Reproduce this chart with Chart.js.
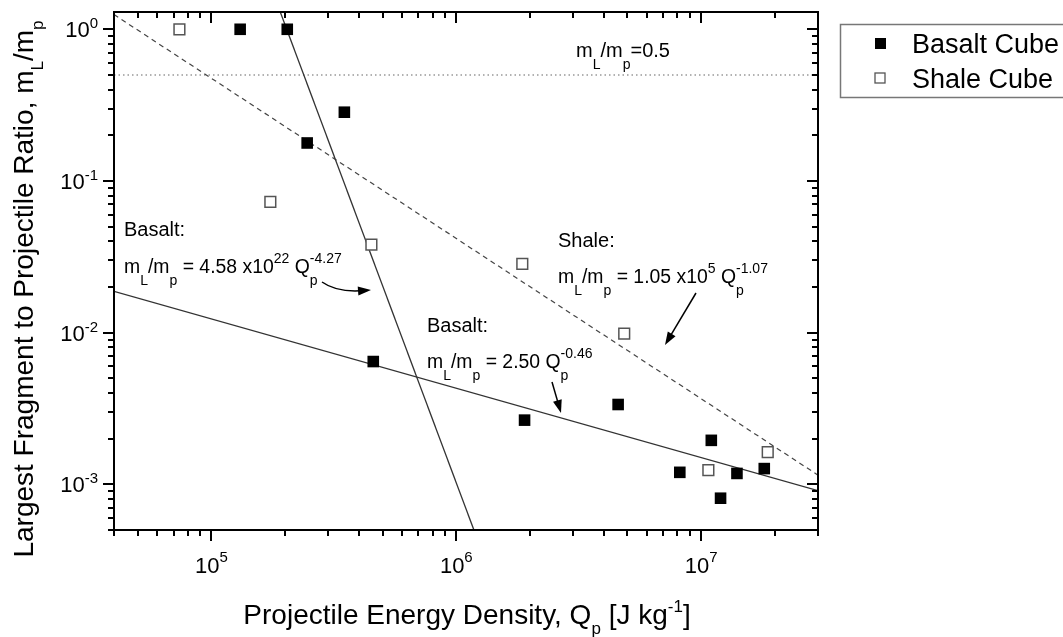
<!DOCTYPE html>
<html>
<head>
<meta charset="utf-8">
<title>Largest fragment vs projectile energy density</title>
<script src="https://cdn.jsdelivr.net/npm/chart.js@4.4.0/dist/chart.umd.min.js"></script>
<style>
  html, body { margin: 0; padding: 0; background: #fff; }
  canvas { display: block; }
</style>
</head>
<body>
<canvas id="chart" width="1063" height="637"></canvas>
<script>
// Data
const basaltQ = [1.31e5, 2.04e5, 2.46e5, 3.49e5, 4.58e5, 1.9e6, 4.58e6, 8.18e6, 1.1e7, 1.2e7, 1.4e7, 1.81e7];
const basaltRatio = [1.0, 1.0, 0.178, 0.284, 0.00645, 0.00265, 0.00336, 0.0012, 0.00195, 0.00081, 0.00118, 0.00127];

const shaleQ = [7.4e4, 1.74e5, 4.5e5, 1.86e6, 4.85e6, 1.07e7, 1.87e7];
const shaleRatio = [1.0, 0.0728, 0.038, 0.0284, 0.00985, 0.00124, 0.00163];

// Fit lines (end points as drawn in the figure)
const basaltSteepQ = [1.91e5, 1.18e6];
const basaltSteepRatio = [1.3, 5e-4];
const basaltShallowQ = [4e4, 3e7];
const basaltShallowRatio = [0.0187, 9.1e-4];
const shaleFitQ = [4e4, 3e7];
const shaleFitRatio = [1.25, 1.15e-3];
const refLineQ = [4e4, 3e7];
const refLineRatio = [0.5, 0.5];

// Axes
const xRange = [4e4, 3e7];
const yRange = [5e-4, 1.3];
const xMajorTicks = [1e5, 1e6, 1e7];
const xTickExponents = ['5', '6', '7'];
const xMinorTicks = [4e4, 5e4, 6e4, 7e4, 8e4, 9e4,
  2e5, 3e5, 4e5, 5e5, 6e5, 7e5, 8e5, 9e5,
  2e6, 3e6, 4e6, 5e6, 6e6, 7e6, 8e6, 9e6,
  2e7, 3e7];
const yMajorTicks = [1, 0.1, 0.01, 0.001];
const yTickExponents = ['0', '-1', '-2', '-3'];
const yMinorTicks = [0.9, 0.8, 0.7, 0.6, 0.5, 0.4, 0.3, 0.2,
  0.09, 0.08, 0.07, 0.06, 0.05, 0.04, 0.03, 0.02,
  0.009, 0.008, 0.007, 0.006, 0.005, 0.004, 0.003, 0.002,
  9e-4, 8e-4, 7e-4, 6e-4, 5e-4];

const FONT = '"Liberation Sans", Arial, Helvetica, sans-serif';

const toPoints = (xs, ys) => xs.map((v, i) => ({ x: v, y: ys[i] }));

// Text with sub/superscripts: parts = [text, kind, advance]
// kind: '' normal, 'b' subscript, 'p' superscript
const drawRich = (ctx, parts, x, y, opt) => {
  const size = opt.size;
  const small = opt.small || Math.round(size * 0.7);
  const down = opt.down !== undefined ? opt.down : size * 0.55;
  const up = opt.up !== undefined ? opt.up : size * 0.5;
  const widths = parts.map(([t, k]) => {
    ctx.font = (k ? small : size) + 'px ' + FONT;
    return ctx.measureText(t).width;
  });
  const total = parts.reduce((s, p, i) => s + (p[2] === false ? 0 : widths[i]), 0);
  let cx = x;
  if (opt.align === 'center') cx = x - total / 2;
  if (opt.align === 'right') cx = x - total;
  ctx.textAlign = 'left';
  ctx.textBaseline = 'alphabetic';
  parts.forEach(([t, k, adv], i) => {
    ctx.font = (k ? small : size) + 'px ' + FONT;
    const dy = k === 'b' ? down : k === 'p' ? -up : 0;
    ctx.fillText(t, cx, y + dy);
    if (adv !== false) cx += widths[i];
  });
};

const drawArrowHead = (ctx, fromX, fromY, tipX, tipY) => {
  const ang = Math.atan2(tipY - fromY, tipX - fromX);
  const len = 13, half = 4.5;
  ctx.beginPath();
  ctx.moveTo(tipX, tipY);
  ctx.lineTo(tipX - len * Math.cos(ang) + half * Math.sin(ang), tipY - len * Math.sin(ang) - half * Math.cos(ang));
  ctx.lineTo(tipX - len * Math.cos(ang) - half * Math.sin(ang), tipY - len * Math.sin(ang) + half * Math.cos(ang));
  ctx.closePath();
  ctx.fill();
};

const drawArrow = (ctx, x1, y1, x2, y2) => {
  const ang = Math.atan2(y2 - y1, x2 - x1);
  ctx.beginPath();
  ctx.moveTo(x1, y1);
  ctx.lineTo(x2 - 10 * Math.cos(ang), y2 - 10 * Math.sin(ang));
  ctx.stroke();
  drawArrowHead(ctx, x1, y1, x2, y2);
};

// Frame, ticks, labels, annotations and legend
const paperPlugin = {
  id: 'paper',
  afterDraw(chart) {
    const { ctx, chartArea: a, scales: { x, y } } = chart;
    ctx.save();
    ctx.strokeStyle = '#000';
    ctx.fillStyle = '#000';

    // Frame
    ctx.lineWidth = 2;
    ctx.strokeRect(a.left, a.top, a.right - a.left, a.bottom - a.top);

    // Tick marks: bottom/left outward, top/right inward
    const seg = (x1, y1, x2, y2) => { ctx.beginPath(); ctx.moveTo(x1, y1); ctx.lineTo(x2, y2); ctx.stroke(); };
    const xTick = (v, len) => {
      const px = Math.round(x.getPixelForValue(v));
      seg(px, a.bottom, px, a.bottom + len);
      seg(px, a.top, px, a.top + len);
    };
    const yTick = (v, len) => {
      const py = Math.round(y.getPixelForValue(v));
      seg(a.left - len, py, a.left, py);
      seg(a.right - len, py, a.right, py);
    };
    xMinorTicks.forEach(v => xTick(v, 6));
    xMajorTicks.forEach(v => xTick(v, 11));
    yMinorTicks.forEach(v => yTick(v, 6));
    yMajorTicks.forEach(v => yTick(v, 11));

    // Tick labels
    xMajorTicks.forEach((v, i) => {
      drawRich(ctx, [['10', ''], [xTickExponents[i], 'p']], x.getPixelForValue(v), a.bottom + 43,
        { size: 22, small: 15, up: 11, align: 'center' });
    });
    yMajorTicks.forEach((v, i) => {
      drawRich(ctx, [['10', ''], [yTickExponents[i], 'p']], a.left - 16, y.getPixelForValue(v) + 8,
        { size: 22, small: 15, up: 9, align: 'right' });
    });

    // Axis titles
    drawRich(ctx, [['Projectile Energy Density, Q', ''], ['p', 'b'], [' [J kg', ''], ['-1', 'p'], [']', '']],
      (a.left + a.right) / 2 + 1, a.bottom + 94, { size: 28, small: 17, down: 10, up: 12, align: 'center' });
    ctx.save();
    ctx.translate(33, 289);
    ctx.rotate(-Math.PI / 2);
    drawRich(ctx, [['Largest Fragment to Projectile Ratio, m', ''], ['L', 'b'], ['/m', ''], ['p', 'b']],
      0, 0, { size: 28, small: 17, down: 10, align: 'center' });
    ctx.restore();

    // Annotations
    const ann = { size: 20, small: 14, down: 12, up: 10 };
    const eq = { size: 19.4, small: 14, down: 12, up: 10 };
    drawRich(ctx, [['m', ''], ['L', 'b'], ['/m', ''], ['p', 'b'], ['=0.5', '']], 576, 57, ann);

    drawRich(ctx, [['Basalt:', '']], 124, 236, ann);
    drawRich(ctx, [['m', ''], ['L', 'b'], ['/m', ''], ['p', 'b'], [' = 4.58 x10', ''], ['22', 'p'],
      [' Q', ''], ['p', 'b', false], ['-4.27', 'p']], 124, 272.5, eq);

    drawRich(ctx, [['Shale:', '']], 558, 246.5, ann);
    drawRich(ctx, [['m', ''], ['L', 'b'], ['/m', ''], ['p', 'b'], [' = 1.05 x10', ''], ['5', 'p'],
      [' Q', ''], ['p', 'b', false], ['-1.07', 'p']], 558, 283, eq);

    drawRich(ctx, [['Basalt:', '']], 427, 331.5, ann);
    drawRich(ctx, [['m', ''], ['L', 'b'], ['/m', ''], ['p', 'b'], [' = 2.50 Q', ''],
      ['p', 'b', false], ['-0.46', 'p']], 427, 368, eq);

    // Arrows
    ctx.lineWidth = 1.5;
    ctx.beginPath();
    ctx.moveTo(322, 282);
    ctx.quadraticCurveTo(336, 292, 360, 290.8);
    ctx.stroke();
    drawArrowHead(ctx, 356, 291.2, 371, 290);
    drawArrow(ctx, 696, 293, 665, 345);
    drawArrow(ctx, 552, 382, 561, 413);

    // Legend
    const basaltSet = chart.data.datasets[0];
    const shaleSet = chart.data.datasets[1];
    ctx.strokeStyle = '#777';
    ctx.lineWidth = 1.5;
    ctx.strokeRect(840.5, 24.5, 240, 73);
    ctx.fillStyle = basaltSet.backgroundColor;
    ctx.fillRect(875, 38, 11, 11);
    ctx.fillStyle = shaleSet.backgroundColor;
    ctx.strokeStyle = shaleSet.borderColor;
    ctx.lineWidth = 1.3;
    ctx.fillRect(875, 73, 10, 10);
    ctx.strokeRect(875, 73, 10, 10);
    ctx.fillStyle = '#000';
    ctx.font = '27px ' + FONT;
    ctx.textAlign = 'left';
    ctx.textBaseline = 'alphabetic';
    ctx.fillText(basaltSet.label, 912, 53);
    ctx.fillText(shaleSet.label, 912, 88);

    ctx.restore();
  }
};

const ctx = document.getElementById('chart').getContext('2d');
const chart = new Chart(ctx, {
  type: 'scatter',
  data: {
    datasets: [
      {
        label: 'Basalt Cube',
        data: toPoints(basaltQ, basaltRatio),
        pointStyle: 'rect',
        pointRadius: 8.2,
        backgroundColor: '#000',
        borderColor: '#000',
        borderWidth: 0
      },
      {
        label: 'Shale Cube',
        data: toPoints(shaleQ, shaleRatio),
        pointStyle: 'rect',
        pointRadius: 7.6,
        backgroundColor: '#fff',
        borderColor: '#555',
        borderWidth: 1.5
      },
      {
        label: 'Basalt fit (steep)',
        data: toPoints(basaltSteepQ, basaltSteepRatio),
        showLine: true,
        pointRadius: 0,
        borderColor: '#333',
        borderWidth: 1.3
      },
      {
        label: 'Basalt fit (shallow)',
        data: toPoints(basaltShallowQ, basaltShallowRatio),
        showLine: true,
        pointRadius: 0,
        borderColor: '#333',
        borderWidth: 1.3
      },
      {
        label: 'Shale fit',
        data: toPoints(shaleFitQ, shaleFitRatio),
        showLine: true,
        pointRadius: 0,
        borderColor: '#444',
        borderWidth: 1.2,
        borderDash: [5, 4]
      },
      {
        label: 'mL/mp = 0.5',
        data: toPoints(refLineQ, refLineRatio),
        showLine: true,
        pointRadius: 0,
        borderColor: '#666',
        borderWidth: 1.1,
        borderDash: [1.5, 3]
      }
    ]
  },
  options: {
    responsive: false,
    animation: false,
    layout: { padding: { left: 0, right: 245, top: 12, bottom: 0 } },
    plugins: {
      legend: { display: false },
      tooltip: { enabled: false }
    },
    scales: {
      x: {
        type: 'logarithmic',
        min: xRange[0],
        max: xRange[1],
        ticks: { display: false },
        grid: { display: false },
        border: { display: false },
        afterFit: (scale) => { scale.height = 107; }
      },
      y: {
        type: 'logarithmic',
        min: yRange[0],
        max: yRange[1],
        ticks: { display: false },
        grid: { display: false },
        border: { display: false },
        afterFit: (scale) => { scale.width = 114; }
      }
    }
  },
  plugins: [paperPlugin]
});
</script>
</body>
</html>
